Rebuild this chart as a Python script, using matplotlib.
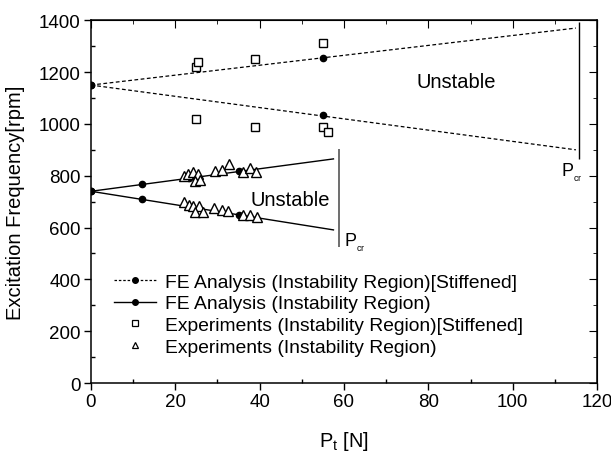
import numpy as np
import matplotlib.pyplot as plt
from matplotlib.ticker import MultipleLocator

plt.rcParams['font.family'] = ['Liberation Sans', 'DejaVu Sans']

# ===== Dati =====
# FE, stiffened (dashed)
fe_s_P = [0, 55]
fe_s_up = [1150, 1255]
fe_s_lo = [1150, 1035]
fit_s_P = [0, 115]
fit_s_up = [1150, 1370]
fit_s_lo = [1150, 900]

# FE, not stiffened (solid)
fe_P = [0, 12, 23.3, 35]
fe_up = [740, 767, 791, 817]
fe_lo = [740, 710, 680, 648]
fit_P = [0, 57.5]
fit_up = [740, 865]
fit_lo = [740, 591]

# Experiments, stiffened (squares)
exp_s_P = [25, 25.4, 39, 55, 25, 39, 55, 56.2]
exp_s_f = [1220, 1240, 1250, 1312, 1020, 990, 990, 970]

# Experiments (triangles)
exp_P = [22.0, 23.1, 24.1, 25.3, 24.7, 25.8, 29.4, 31.1, 32.7, 36.1, 37.7, 39.1,
         22.0, 23.3, 24.3, 25.7, 24.7, 26.5, 29.2, 31.0, 32.6, 36.1, 37.7, 39.3]
exp_f = [798, 807, 816, 807, 781, 785, 820, 824, 846, 813, 829, 816,
         698, 688, 685, 685, 659, 659, 676, 669, 665, 649, 649, 640]

# critical loads
pcr_s = 115.8
pcr_s_range = [865, 1395]
pcr = 58.7
pcr_range = [525, 905]

# ===== Grafico =====
fig = plt.figure(figsize=(6.11, 4.52), dpi=100)
ax = fig.add_axes([0.1489, 0.1504, 0.9771 - 0.1489, 0.9529 - 0.1504])

ax.plot(fit_s_P, fit_s_up, color='black', ls=(0, (3, 2)), lw=0.9)
ax.plot(fit_s_P, fit_s_lo, color='black', ls=(0, (3, 2)), lw=0.9)
ax.plot(fe_s_P, fe_s_up, 'o', color='black', ms=4.5)
ax.plot(fe_s_P, fe_s_lo, 'o', color='black', ms=4.5)

ax.plot(fit_P, fit_up, color='black', ls='-', lw=1.0)
ax.plot(fit_P, fit_lo, color='black', ls='-', lw=1.0)
ax.plot(fe_P, fe_up, 'o', color='black', ms=4.5)
ax.plot(fe_P, fe_lo, 'o', color='black', ms=4.5)

ax.plot(exp_s_P, exp_s_f, 's', mfc='white', mec='black', mew=1.0, ms=5.5)
ax.plot(exp_P, exp_f, '^', mfc='white', mec='black', mew=1.0, ms=7)

ax.vlines(pcr_s, *pcr_s_range, color='black', lw=1.0)
ax.vlines(pcr, *pcr_range, color='#555555', lw=1.2)

ax.text(pcr_s - 4.3, 815, r'P$_{\mathregular{_{cr}}}$', fontsize=13, va='center')
ax.text(pcr + 1.2, 545, r'P$_{\mathregular{_{cr}}}$', fontsize=13, va='center')
ax.text(77.3, 1162, 'Unstable', fontsize=14.5, va='center')
ax.text(56.7, 710, 'Unstable', fontsize=14.5, va='center', ha='right')

# legend handles
h1, = ax.plot([], [], color='black', ls=(0, (2, 1.5)), lw=0.9, marker='o', ms=4)
h2, = ax.plot([], [], color='black', ls='-', lw=1.0, marker='o', ms=4)
h3, = ax.plot([], [], 's', mfc='white', mec='black', mew=0.9, ms=4)
h4, = ax.plot([], [], '^', mfc='white', mec='black', mew=0.9, ms=4.5)
ax.legend([h1, h2, h3, h4],
          ['FE Analysis (Instability Region)[Stiffened]',
           'FE Analysis (Instability Region)',
           'Experiments (Instability Region)[Stiffened]',
           'Experiments (Instability Region)'],
          loc='upper left', bbox_to_anchor=(0.045, 0.303), frameon=False,
          fontsize=13.9, handlelength=2.2, handletextpad=0.45,
          labelspacing=0.22, borderaxespad=0, borderpad=0)

ax.set_xlim(0, 120)
ax.set_ylim(0, 1400)
ax.xaxis.set_major_locator(MultipleLocator(20))
ax.xaxis.set_minor_locator(MultipleLocator(10))
ax.yaxis.set_major_locator(MultipleLocator(200))
ax.yaxis.set_minor_locator(MultipleLocator(100))
ax.tick_params(which='major', direction='out', length=5, width=1,
               labelsize=13.5, pad=2.5)
ax.tick_params(which='minor', direction='in', length=3, width=1)

# mirrored ticks on top/right, pointing inwards
top = ax.secondary_xaxis('top')
top.xaxis.set_major_locator(MultipleLocator(20))
top.xaxis.set_minor_locator(MultipleLocator(10))
top.tick_params(which='major', direction='in', length=6, labeltop=False)
top.tick_params(which='minor', direction='in', length=3)
right = ax.secondary_yaxis('right')
right.yaxis.set_major_locator(MultipleLocator(200))
right.yaxis.set_minor_locator(MultipleLocator(100))
right.tick_params(which='major', direction='in', length=6, labelright=False)
right.tick_params(which='minor', direction='in', length=3)

for s in ax.spines.values():
    s.set_linewidth(1.1)

ax.set_xlabel(r'P$_{\mathregular{t}}$ [N]', fontsize=14.4)
ax.set_ylabel('Excitation Frequency[rpm]', fontsize=14.5)
ax.xaxis.set_label_coords(0.5, -0.127)
ax.yaxis.set_label_coords(-0.130, 0.5)

fig.savefig('out.png', dpi=100)
